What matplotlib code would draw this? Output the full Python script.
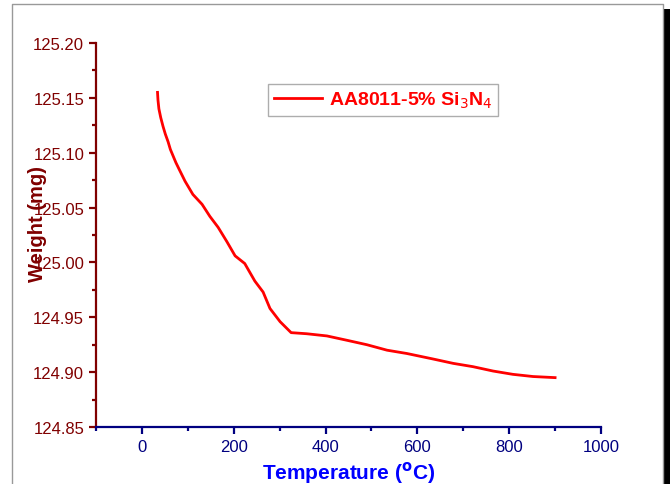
import matplotlib
matplotlib.use("Agg")
import matplotlib.pyplot as plt
from matplotlib.lines import Line2D
from matplotlib.patches import Rectangle
from matplotlib.ticker import MultipleLocator, FormatStrFormatter

plt.rcParams['font.family'] = ['Liberation Sans', 'DejaVu Sans']

# TGA weight loss curve
temperature = [34, 35, 37, 41, 46, 51, 57, 62, 68, 74, 81, 94, 111, 131, 148,
               166, 185, 203, 224, 246, 264, 279, 301, 325, 359, 403, 447, 490,
               534, 577, 634, 678, 721, 765, 808, 852, 900]
weight = [125.155, 125.148, 125.140, 125.132, 125.124, 125.117, 125.110,
          125.103, 125.097, 125.091, 125.085, 125.074, 125.062, 125.053,
          125.042, 125.032, 125.019, 125.006, 124.999, 124.983, 124.973,
          124.958, 124.946, 124.936, 124.935, 124.933, 124.929, 124.925,
          124.920, 124.917, 124.912, 124.908, 124.905, 124.901, 124.898,
          124.896, 124.895]
series_label = 'AA8011-5% Si$_3$N$_4$'

dred = '#800000'
navy = '#000080'

fig = plt.figure(figsize=(6.7, 4.85), dpi=100)
ax = fig.add_axes([96 / 670, 1 - 428 / 485, 505 / 670, 384 / 485])

ax.plot(temperature, weight, color='#ff0000', lw=2.0, label=series_label)

ax.set_xlim(-100, 1000)
ax.set_ylim(124.85, 125.20)
ax.xaxis.set_major_locator(MultipleLocator(200))
ax.xaxis.set_minor_locator(MultipleLocator(100))
ax.yaxis.set_major_locator(MultipleLocator(0.05))
ax.yaxis.set_minor_locator(MultipleLocator(0.025))
ax.yaxis.set_major_formatter(FormatStrFormatter('%.2f'))

ax.spines['top'].set_visible(False)
ax.spines['right'].set_visible(False)
ax.spines['left'].set_color(dred)
ax.spines['left'].set_linewidth(1.6)
ax.spines['bottom'].set_color(navy)
ax.spines['bottom'].set_linewidth(1.6)

ax.tick_params(axis='y', which='both', colors=dred, labelsize=12, width=1.6)
ax.tick_params(axis='x', which='both', colors=navy, labelsize=12, width=1.6)
ax.tick_params(which='major', length=5, direction='out')
ax.tick_params(which='minor', length=3, direction='out')

ax.set_xlabel('Temperature ($^{\\mathbf{o}}$C)', color='#0000ff',
              fontsize=15, fontweight='bold', labelpad=4)
ax.set_ylabel('Weight (mg)', color=dred, fontsize=14.5, fontweight='bold')
ax.yaxis.set_label_coords(-0.098, 0.53)

leg = ax.legend(loc='upper left', bbox_to_anchor=(0.34, 0.893),
                borderaxespad=0, fancybox=False, handlelength=2.5,
                handletextpad=0.35, borderpad=0.3,
                prop={'size': 14, 'weight': 'bold'})
leg.get_frame().set_edgecolor('#999999')
leg.get_frame().set_linewidth(1.0)
for t in leg.get_texts():
    t.set_color('#ff0000')

# outer frame (left, top, right) and dark edge strip
fx0, fx1, fy1 = 12 / 670, 663 / 670, 1 - 5 / 485
fig.add_artist(Line2D([fx0, fx0, fx1, fx1], [0, fy1, fy1, 0],
                      transform=fig.transFigure, color='#999999', lw=1.0))
fig.patches.append(Rectangle((664 / 670, 0), 6 / 670, 1 - 10 / 485,
                             transform=fig.transFigure, facecolor='black',
                             edgecolor='none'))

fig.savefig('out.png', dpi=100)
